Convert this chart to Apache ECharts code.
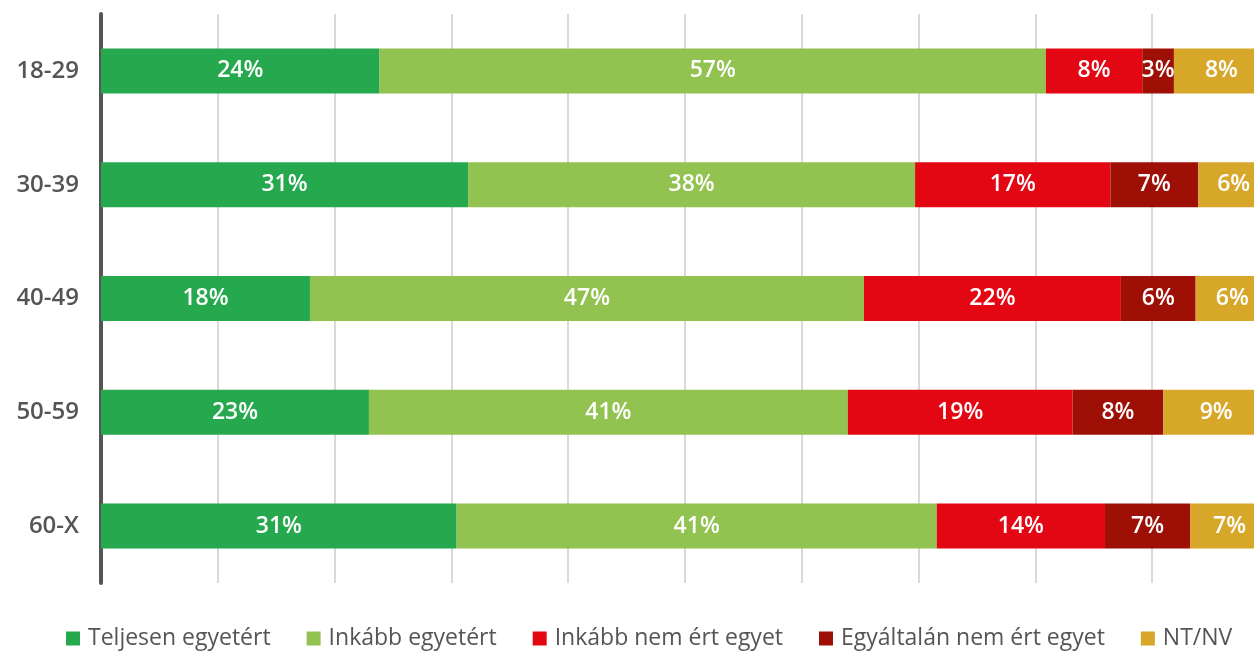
<!DOCTYPE html>
<html>
<head>
<meta charset="utf-8">
<script src="https://cdn.jsdelivr.net/npm/echarts@6/dist/echarts.min.js"></script>
<style>
  html, body { margin: 0; padding: 0; background: #fff; overflow: hidden; }
  #chart { width: 1254px; height: 653px; }
</style>
</head>
<body>
<div id="chart"></div>
<script>
// korcsoportok
var categories = ['18-29', '30-39', '40-49', '50-59', '60-X'];
var seriesNames = ['Teljesen egyetért', 'Inkább egyetért', 'Inkább nem ért egyet', 'Egyáltalán nem ért egyet', 'NT/NV'];
var colors = ['#26a84e', '#92c250', '#e30613', '#9e1006', '#d7a729'];

// szegmensek szélessége
var teljesen = [23.85, 31.43, 17.89, 22.94, 30.45];
var inkabb = [57.05, 38.27, 47.43, 41.00, 41.10];
var inkabbNem = [8.25, 16.72, 22.00, 19.24, 14.41];
var egyaltalan = [2.71, 7.53, 6.40, 7.77, 7.28];
var ntnv = [8.14, 6.05, 6.28, 9.05, 6.76];

// kiírt százalékok
var lblTeljesen = [24, 31, 18, 23, 31];
var lblInkabb = [57, 38, 47, 41, 41];
var lblInkabbNem = [8, 17, 22, 19, 14];
var lblEgyaltalan = [3, 7, 6, 8, 7];
var lblNtnv = [8, 6, 6, 9, 7];

var values = [teljesen, inkabb, inkabbNem, egyaltalan, ntnv];
var labels = [lblTeljesen, lblInkabb, lblInkabbNem, lblEgyaltalan, lblNtnv];

var myChart = echarts.init(document.getElementById('chart'));

var series = [];
for (var i = 0; i < seriesNames.length; i++) {
    (function (idx) {
        series.push({
            name: seriesNames[idx],
            type: 'bar',
            stack: 'total',
            barWidth: 45,
            itemStyle: { color: colors[idx] },
            label: {
                show: true,
                position: 'inside',
                color: '#fff',
                fontFamily: 'Open Sans',
                fontWeight: 600,
                fontSize: 23,
                formatter: function (p) {
                    return labels[idx][p.dataIndex] + '%';
                }
            },
            data: values[idx]
        });
    })(i);
}

var option = {
    animation: false,
    color: colors,
    grid: {
        left: 101,
        right: -15, // a jobb szél kilóg a képből
        top: 14,
        bottom: 70,
        outerBoundsMode: 'none'
    },
    legend: {
        left: 61,
        top: 622,
        icon: 'rect',
        itemWidth: 14,
        itemHeight: 14,
        itemGap: 36,
        textStyle: {
            color: '#555',
            fontFamily: 'Open Sans',
            fontSize: 23,
            padding: [0, 0, 0, 3]
        },
        data: seriesNames
    },
    xAxis: {
        type: 'value',
        min: 0,
        max: 100,
        interval: 10,
        axisLine: { show: false },
        axisTick: { show: false },
        axisLabel: { show: false },
        splitLine: {
            show: true,
            lineStyle: { color: '#d9d9d9', width: 2 }
        }
    },
    yAxis: {
        type: 'category',
        inverse: true,
        data: categories,
        axisLine: {
            show: true,
            lineStyle: { color: '#555', width: 4 }
        },
        axisTick: { show: false },
        axisLabel: {
            margin: 22,
            color: '#555',
            fontFamily: 'Open Sans',
            fontWeight: 600,
            fontSize: 24
        }
    },
    series: series
};

myChart.setOption(option);
window.addEventListener('resize', function () {
    myChart.resize();
});
</script>
</body>
</html>
